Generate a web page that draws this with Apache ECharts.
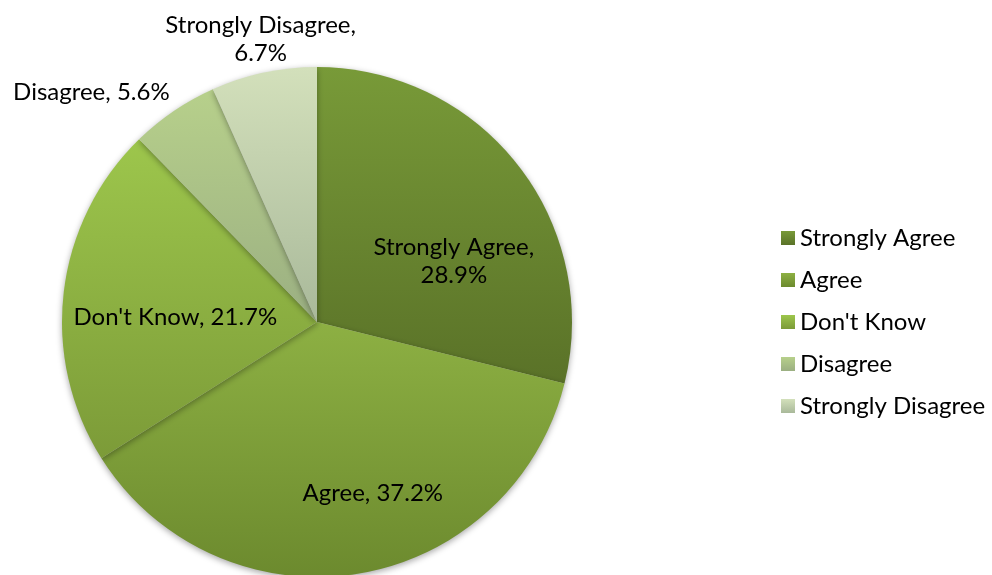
<!DOCTYPE html>
<html><head><meta charset="utf-8">
<script src="https://cdn.jsdelivr.net/npm/echarts@6/dist/echarts.min.js"></script>
<style>html,body{margin:0;padding:0;background:#fff}#c{width:992px;height:575px}</style>
</head><body><div id="c"></div>
<script>
const categories = ['Strongly Agree', 'Agree', "Don't Know", 'Disagree', 'Strongly Disagree'];
const values = [28.9, 37.2, 21.7, 5.6, 6.7];
const topColors = ['#789A38', '#8DB043', '#9DC64C', '#B7D08B', '#D3E0BB'];
const bottomColors = ['#5A7228', '#6C8A2E', '#7C9B38', '#9BAF82', '#A9B99A'];
const labelPos = ['inside', 'inside', 'inside', 'outside', 'outside'];
const labelShift = [[34, 20], [35, 42], [-12, 11], [-39, -6], [35, -19]];

function grad(i){
  return new echarts.graphic.LinearGradient(0,0,0,1,[{offset:0,color:topColors[i]},{offset:1,color:bottomColors[i]}]);
}
const chart = echarts.init(document.getElementById('c'), null, {renderer:'canvas'});
const font = 'Lato, "Open Sans", sans-serif';
chart.setOption({
  animation:false,
  legend:{
    orient:'vertical', left:776, top:221, itemWidth:14, itemHeight:14, itemGap:18,
    icon:'rect',
    textStyle:{fontFamily:font, fontSize:24, color:'#000'},
    data: categories
  },
  series:[{
    type:'pie', center:[317,322], radius:[0,255], startAngle:90, clockwise:true,
    avoidLabelOverlap:false,
    itemStyle:{shadowBlur:6, shadowColor:'rgba(0,0,0,0.35)', shadowOffsetY:2},
    labelLine:{show:false},
    data: categories.map((n,i)=>({
      name:n, value:values[i],
      itemStyle:{color:grad(i)},
      label:{show:true, position:labelPos[i], fontFamily:font, fontSize:24, color:'#000', lineHeight:28,
        formatter: i===0||i===4 ? '{b},\n{c}%' : '{b}, {c}%'}
    })),
    labelLayout: function(p){ const s = labelShift[p.dataIndex]; return {dx:s[0], dy:s[1], align:'center'}; }
  }]
});
</script></body></html>
